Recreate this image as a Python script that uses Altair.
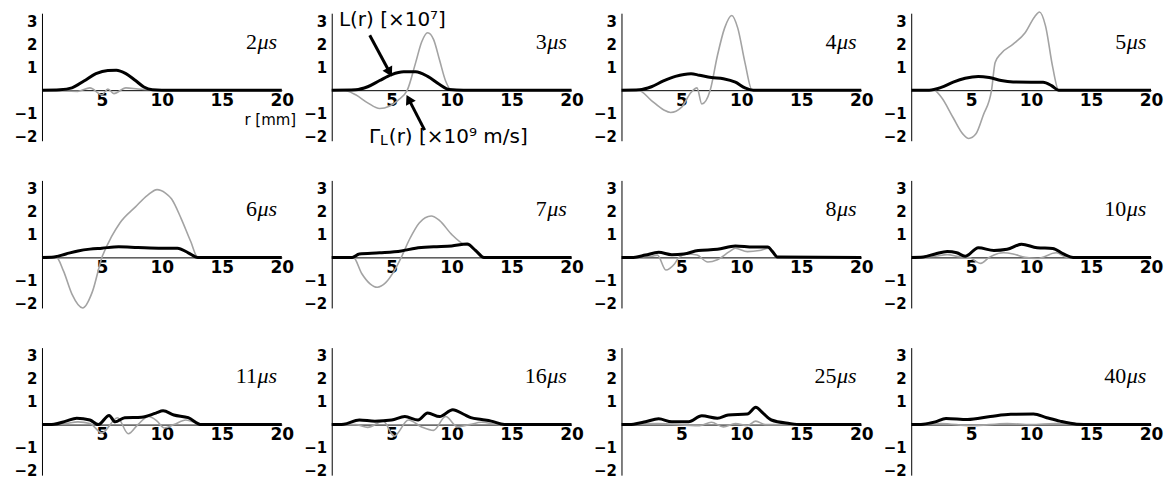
import altair as alt
import pandas as pd

# ---------------- data ----------------
times = ["2", "3", "4", "5", "6", "7", "8", "10", "11", "16", "25", "40"]

# L(r) [x10^7]  (black, thick)
L_2 = [(0, 0), (1.5, 0.02), (2.5, 0.1), (3.5, 0.4), (4.5, 0.72), (5.5, 0.86), (6.2, 0.87), (7, 0.72), (7.8, 0.42), (8.5, 0.14), (9.2, 0.02), (10, 0), (20, 0)]
L_3 = [(0, 0), (2, 0.02), (3, 0.15), (4, 0.42), (5, 0.68), (6, 0.8), (7, 0.8), (8, 0.6), (9, 0.25), (9.8, 0.03), (11, 0), (20, 0)]
L_4 = [(0, 0), (1.5, 0.02), (2.5, 0.15), (3.5, 0.4), (4.5, 0.6), (5.8, 0.72), (6.5, 0.65), (7.5, 0.55), (8.5, 0.5), (9.5, 0.35), (10.3, 0.1), (11, 0), (20, 0)]
L_5 = [(0, 0), (1.5, 0), (2.5, 0.12), (3.5, 0.35), (4.5, 0.52), (5.6, 0.6), (6.5, 0.55), (7.5, 0.42), (8.5, 0.36), (10, 0.35), (11, 0.35), (11.7, 0.2), (12.3, 0), (20, 0)]
L_6 = [(0, 0), (1, 0.02), (2, 0.15), (3, 0.28), (4, 0.36), (5, 0.4), (6.4, 0.46), (8, 0.43), (10, 0.4), (11.3, 0.4), (12.2, 0.2), (13, 0), (20, 0)]
L_7 = [(0, 0), (1.7, 0), (2.3, 0.15), (4, 0.2), (5.8, 0.28), (7, 0.4), (8.5, 0.46), (10, 0.5), (11.3, 0.58), (12, 0.3), (12.7, 0), (20, 0)]
L_8 = [(0, 0), (1, 0), (2, 0.1), (3.1, 0.22), (4.2, 0.12), (5.2, 0.15), (6.4, 0.3), (8, 0.35), (9.5, 0.5), (11, 0.45), (12.2, 0.45), (12.6, 0.25), (13, 0.02), (20, 0)]
L_10 = [(0, 0), (1, 0.02), (2, 0.15), (3, 0.26), (3.8, 0.2), (4.5, 0.05), (5.6, 0.42), (6.9, 0.3), (8, 0.35), (9.2, 0.57), (10.5, 0.42), (11.8, 0.39), (12.7, 0.15), (13.5, 0), (20, 0)]
L_11 = [(0, 0), (1, 0.02), (2, 0.15), (2.9, 0.28), (4, 0.2), (4.7, 0.0), (5.6, 0.4), (6.1, 0.12), (6.9, 0.3), (8.3, 0.32), (9.5, 0.5), (10.1, 0.6), (11, 0.42), (12.2, 0.3), (13.3, 0), (20, 0)]
L_16 = [(0, 0), (1, 0.02), (2.3, 0.2), (3.6, 0.15), (5, 0.2), (6.1, 0.35), (7.2, 0.2), (8.0, 0.5), (9.0, 0.35), (10.1, 0.65), (11, 0.45), (11.6, 0.3), (12.5, 0.22), (13.3, 0.15), (14.4, 0), (20, 0)]
L_25 = [(0, 0), (1, 0.02), (2, 0.12), (3.1, 0.25), (4.2, 0.12), (5.6, 0.12), (6.7, 0.38), (8.0, 0.28), (8.9, 0.42), (10.5, 0.46), (11.2, 0.75), (11.8, 0.5), (12.5, 0.2), (14, 0.05), (15, 0), (20, 0)]
L_40 = [(0, 0), (1, 0.02), (2, 0.12), (2.9, 0.27), (4.7, 0.22), (6.6, 0.35), (8.3, 0.45), (10.2, 0.46), (11.3, 0.3), (12.4, 0.15), (13.8, 0.02), (15, 0), (20, 0)]

# Gamma_L(r) [x10^9 m/s]  (grey, thin)
G_2 = [(0, 0), (3, -0.05), (4, 0.1), (5, -0.2), (5.5, 0.05), (6, -0.15), (7, 0.1), (8, 0.05), (10, 0), (20, 0)]
G_3 = [(0, 0), (1, 0), (2, -0.2), (3, -0.55), (4, -0.8), (4.8, -0.7), (5.5, -0.45), (6.3, 0), (7, 1.2), (7.5, 2.1), (8, 2.5), (8.5, 2.2), (9, 1.3), (9.5, 0.4), (10, 0), (20, 0)]
G_4 = [(0, 0), (1.4, 0), (2.5, -0.45), (3.5, -0.85), (4.1, -0.97), (5, -0.75), (5.8, -0.1), (6.3, 0.1), (6.7, -0.6), (7.4, 0), (8, 1.5), (8.6, 2.7), (9.2, 3.25), (9.7, 2.7), (10.3, 1.2), (10.9, 0), (20, 0)]
G_5 = [(0, 0), (1.9, 0), (2.5, -0.3), (3.5, -1.2), (4.3, -1.9), (4.8, -2.1), (5.4, -1.9), (6.0, -1.1), (6.7, 0), (7.0, 1.2), (7.5, 1.6), (8.5, 2.0), (9.5, 2.5), (10.3, 3.2), (10.7, 3.4), (11.2, 2.8), (11.8, 1.0), (12.3, 0), (20, 0)]
G_6 = [(0, 0), (1.2, 0), (1.8, -0.6), (2.5, -1.6), (3.4, -2.2), (4.2, -1.5), (5.0, 0), (5.8, 0.9), (6.5, 1.5), (7.8, 2.2), (8.8, 2.7), (9.6, 2.95), (10.3, 2.8), (10.8, 2.55), (11.6, 1.7), (12.4, 0.7), (13, 0), (20, 0)]
G_7 = [(0, 0), (1.8, 0), (2.5, -0.7), (3.2, -1.15), (3.8, -1.3), (4.5, -1.1), (5.2, -0.6), (5.8, 0), (6.5, 0.8), (7.3, 1.5), (8.3, 1.8), (9, 1.6), (10, 1.0), (11.1, 0.55), (11.5, 0.5), (12.2, 0.2), (12.7, 0), (20, 0)]
G_8 = [(0, 0), (2.5, 0.05), (3.0, 0.1), (3.7, -0.55), (4.4, -0.3), (4.8, 0), (5.5, 0.15), (6.3, 0.1), (7.2, -0.2), (8, -0.1), (9, 0.25), (9.5, 0.4), (10.5, 0.25), (11.5, 0.3), (12.3, 0.4), (13, 0), (20, 0)]
G_10 = [(0, 0), (2, 0.05), (3, 0.12), (4, 0.03), (4.8, 0), (5.8, -0.26), (6.5, 0), (7.7, 0.2), (8.5, 0.15), (9.5, 0.0), (10.5, -0.05), (12.1, 0.2), (13, 0), (20, 0)]
G_11 = [(0, 0), (2, 0.05), (3, 0.12), (4, 0.05), (5.0, -0.36), (6.3, 0.3), (7.2, -0.4), (8.0, 0.0), (8.9, 0.35), (9.6, 0.15), (10.2, -0.15), (11, 0.0), (12, 0.2), (13, 0.05), (14, 0), (20, 0)]
G_16 = [(0, 0), (2, 0), (3, -0.12), (4.3, 0.15), (5.2, -0.5), (6.4, 0.2), (7.5, -0.1), (8.5, -0.25), (9.5, 0.35), (10.5, -0.1), (11.5, 0.0), (12.5, 0.1), (14, 0), (20, 0)]
G_25 = [(0, 0), (3, 0.05), (6.5, -0.05), (7.5, 0.1), (8.5, -0.1), (9.5, 0.05), (10.5, -0.05), (11.2, 0.15), (12, 0.0), (20, 0)]
G_40 = [(0, 0), (2.5, 0.05), (5, -0.05), (8, 0.05), (10, 0.0), (12, 0.05), (20, 0)]

L_curves = [L_2, L_3, L_4, L_5, L_6, L_7, L_8, L_10, L_11, L_16, L_25, L_40]
G_curves = [G_2, G_3, G_4, G_5, G_6, G_7, G_8, G_10, G_11, G_16, G_25, G_40]

x_ticks = [5, 10, 15, 20]
y_ticks = [-2, -1, 1, 2, 3]

# annotation anchors (data coordinates)
time_label_pos = (19.6, 2.1)
r_label_pos = (21.2, -1.3)
L_label_pos = (0.6, 3.04)
G_label_pos = (3.1, -2.04)
arrow_L = [(3.17, 2.39), (4.83, 0.78)]
arrow_G = [(7.75, -1.74), (6.42, -0.39)]

# ---------------- layout / style ----------------
X_MIN, X_MAX = 0, 20
Y_MIN, Y_MAX = -2.2, 3.35
PX_PER_UNIT = 23
W = 240
H = (Y_MAX - Y_MIN) * PX_PER_UNIT
GREY = "#a3a3a3"

x_enc = alt.X(
    "r:Q",
    scale=alt.Scale(domain=[X_MIN, X_MAX], nice=False, zero=False),
    axis=alt.Axis(values=x_ticks, title=None, grid=False, ticks=False, labelFlush=False,
                  labelOverlap=False, labelFont="DejaVu Sans", labelFontWeight="bold",
                  labelFontSize=17, labelColor="black", labelPadding=2,
                  domainColor="black", domainWidth=1,
                  offset=-(0 - Y_MIN) * PX_PER_UNIT),
)
y_enc = alt.Y(
    "v:Q",
    scale=alt.Scale(domain=[Y_MIN, Y_MAX], nice=False, zero=False),
    axis=alt.Axis(values=y_ticks, title=None, grid=False, ticks=False, labelFlush=False,
                  labelOverlap=False, labelFont="DejaVu Sans", labelFontWeight="bold",
                  labelFontSize=15, labelColor="black", labelPadding=5,
                  domainColor="black", domainWidth=1),
)


def pts_df(pts):
    return pd.DataFrame({"r": [p[0] for p in pts], "v": [p[1] for p in pts]})


def text_layer(pos, txt, **kw):
    return alt.Chart(pts_df([pos])).mark_text(text=txt, color="black", **kw).encode(x=x_enc, y=y_enc)


def arrow(pts, angle):
    line = alt.Chart(pts_df(pts)).mark_line(color="black", strokeWidth=3).encode(x=x_enc, y=y_enc)
    head = alt.Chart(pts_df([pts[1]])).mark_point(
        shape="triangle-up", filled=True, size=120, angle=angle, color="black", opacity=1
    ).encode(x=x_enc, y=y_enc)
    return [line, head]


panels = []
for i, t in enumerate(times):
    g = alt.Chart(pts_df(G_curves[i])).mark_line(
        color=GREY, strokeWidth=1.6, interpolate="monotone").encode(x=x_enc, y=y_enc)
    l = alt.Chart(pts_df(L_curves[i])).mark_line(
        color="black", strokeWidth=3, interpolate="monotone").encode(x=x_enc, y=y_enc)
    num = text_layer(time_label_pos, t, align="right", baseline="middle", dx=-20,
                     font="Liberation Serif", fontSize=22)
    mu = text_layer(time_label_pos, "μs", align="right", baseline="middle",
                    font="Liberation Serif", fontSize=22, fontStyle="italic")
    layers = [g, l, num, mu]
    if i == 0:
        layers.append(text_layer(r_label_pos, "r [mm]", align="right", baseline="middle",
                                 font="DejaVu Sans", fontSize=15))
    if i == 1:
        layers.append(text_layer(L_label_pos, "L(r) [×10⁷]", align="left", baseline="middle",
                                 font="DejaVu Sans", fontSize=20))
        layers += arrow(arrow_L, 151.6)
        layers.append(text_layer(G_label_pos, "Γ", align="left", baseline="middle",
                                 font="DejaVu Sans", fontSize=20))
        layers.append(text_layer(G_label_pos, "L", align="left", baseline="middle",
                                 font="DejaVu Sans", fontSize=14, dx=11, dy=4))
        layers.append(text_layer(G_label_pos, "(r) [×10⁹ m/s]", align="left", baseline="middle",
                                 font="DejaVu Sans", fontSize=20, dx=20))
        layers += arrow(arrow_G, 332.7)
    panels.append(alt.layer(*layers).properties(width=W, height=H))

chart = alt.concat(
    *panels, columns=4, spacing={"row": 167 - H, "column": 290 - W}, bounds="flush"
).properties(
    padding={"left": 5, "top": 0, "right": 0, "bottom": 0},
    background="white",
).configure_view(stroke="transparent")

chart.save("out.html", embed_options={"renderer": "svg", "actions": False})
